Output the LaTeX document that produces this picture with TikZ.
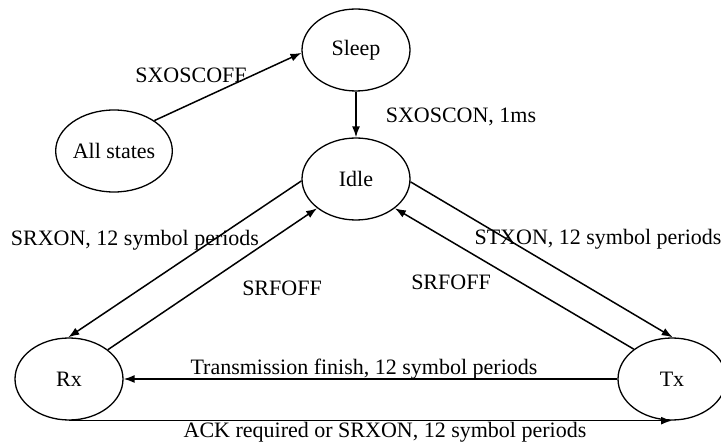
\documentclass[tikz,border=0pt]{standalone}
\usepackage{fontspec}
\setmainfont{Liberation Serif}
\usetikzlibrary{shapes.geometric,arrows.meta}
\begin{document}
\begin{tikzpicture}[x=1pt,y=-1pt,
  state/.style={ellipse,draw,line width=1.3pt,minimum width=108pt,minimum height=82pt,inner sep=0pt,font=\fontsize{22}{26}\selectfont},
  trans/.style={line width=1.5pt,-{Latex[length=11pt,width=8pt]}},
  lbl/.style={font=\fontsize{22}{26}\selectfont,inner sep=0pt}]
\useasboundingbox (0,0) rectangle (721,443);

% states
\node[state] (sleep) at (356,50) {Sleep};
\node[state] (idle)  at (356,179) {Idle};
\node[state] (all)   at (114,151) {All states};
\node[state] (rx)    at (69,379) {Rx};
\node[state] (tx)    at (672,379) {Tx};

% transitions
\draw[trans] (all.37) -- (sleep.183);
\draw[trans] (sleep.south) -- (idle.north);
\draw[trans] (idle.182) -- (rx.91);
\draw[trans] (rx.37) -- (idle.217);
\draw[trans] (idle.357) -- (tx.89);
\draw[trans] (tx.142) -- (idle.323);
\draw[trans] (tx.west) -- (rx.east);
\draw[trans] (rx.south) -- (tx.south);

% transition labels
\node[lbl] (l1) at (191,75)  {SXOSCOFF};
\node[lbl] (l2) at (461,117) {SXOSCON, 1ms};
\node[lbl] (l3) at (135,240) {SRXON, 12 symbol periods};
\node[lbl] (l4) at (282,288) {SRFOFF};
\node[lbl] (l5) at (598,239) {STXON, 12 symbol periods};
\node[lbl] (l6) at (451,282) {SRFOFF};
\node[lbl] (l7) at (364,369) {Transmission finish, 12 symbol periods};
\node[lbl] (l8) at (385,432) {ACK required or SRXON, 12 symbol periods};
\end{tikzpicture}
\end{document}
